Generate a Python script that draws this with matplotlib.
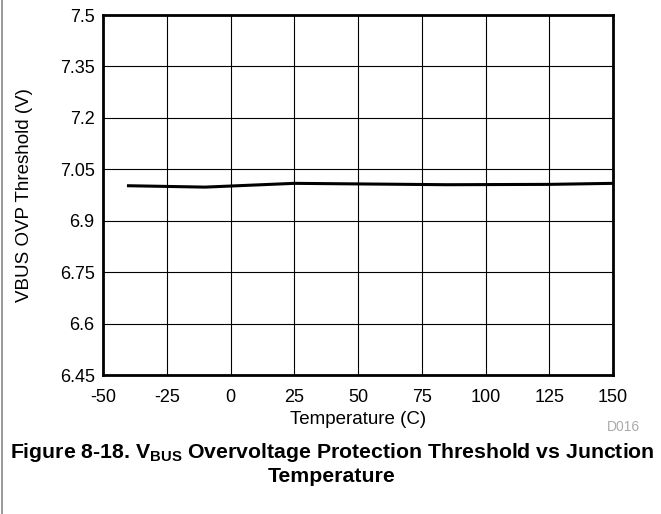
import numpy as np
import matplotlib
matplotlib.use("Agg")
import matplotlib.pyplot as plt
from matplotlib.lines import Line2D

plt.rcParams['font.family'] = ['Liberation Sans', 'DejaVu Sans']
plt.rcParams['mathtext.fontset'] = 'custom'
plt.rcParams['mathtext.rm'] = 'Liberation Sans'
plt.rcParams['mathtext.bf'] = 'Liberation Sans:bold'
plt.rcParams['axes.unicode_minus'] = False

# data
temp = [-40, -10, 25, 85, 125, 150]
vbus_ovp = [7.002, 6.998, 7.009, 7.005, 7.006, 7.009]
xticks = [-50, -25, 0, 25, 50, 75, 100, 125, 150]
yticks = [6.45, 6.6, 6.75, 6.9, 7.05, 7.2, 7.35, 7.5]
ytick_labels = ['6.45', '6.6', '6.75', '6.9', '7.05', '7.2', '7.35', '7.5']

W, H = 661, 514
fig = plt.figure(figsize=(W/100, H/100), dpi=100)
ax = fig.add_axes([103/W, 1 - 375/H, 510/W, 360/H])

ax.plot(temp, vbus_ovp, color='black', lw=2.2)
ax.set_xlim(-50, 150)
ax.set_ylim(6.45, 7.5)
ax.set_xticks(xticks)
ax.set_yticks(yticks)
ax.set_yticklabels(ytick_labels)
ax.grid(True, color='black', lw=0.8)
ax.tick_params(length=0, labelsize=13)
ax.tick_params(axis='x', pad=10)
ax.tick_params(axis='y', pad=6)
for s in ax.spines.values():
    s.set_linewidth(2)
ax.set_xlabel('Temperature (C)', fontsize=13.5, labelpad=4)
ax.set_ylabel('VBUS OVP Threshold (V)', fontsize=13.5)
ax.yaxis.set_label_coords((33 - 103) / 510, 0.5)

fig.text(640/W, 1 - 427/H, 'D016', color='#aaaaaa', fontsize=10, ha='right', va='center')
fig.text(332/W, 1 - 452/H,
         r'Figure 8-18. V$_{\mathbf{BUS}}$ Overvoltage Protection Threshold vs Junction',
         fontsize=15.3, fontweight='bold', ha='center', va='center')
fig.text(332/W, 1 - 477/H, 'Temperature', fontsize=15.3, fontweight='bold',
         ha='center', va='center')

# gray border line at the left edge
fig.add_artist(Line2D([1.5/W, 1.5/W], [0, 1], color='#888888', lw=1.2))

fig.savefig('out.png', dpi=100)
